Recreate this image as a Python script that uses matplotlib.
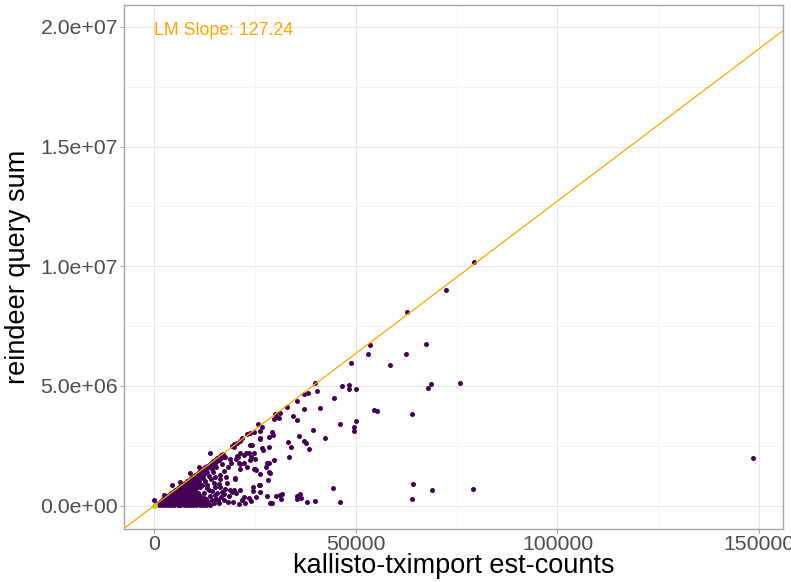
import matplotlib
matplotlib.use("Agg")
import matplotlib.pyplot as plt
from matplotlib.ticker import FixedLocator, MultipleLocator

plt.rcParams['font.family'] = ['Liberation Sans', 'DejaVu Sans']

# ---- data (x in thousands of est-counts, y in millions of query sum) ----
# dense wedge near the origin
dense_x_k = [0.3, 1.1, 1.9, 2.6, 3.4, 4.2, 5.0, 5.8, 6.5, 7.3, 8.1, 8.9, 9.6, 10.4, 11.3, 12.0, 12.9, 13.8,
             0.7, 1.5, 2.3, 3.0, 3.8, 4.6, 5.4, 6.2, 6.9, 7.7, 8.5, 9.3, 10.0, 10.8, 11.7, 12.5, 13.3,
             1.2, 2.0, 2.9, 3.7, 4.5, 5.3, 6.1, 6.9, 7.7, 8.5, 9.2, 10.0, 10.9, 11.6, 12.5, 13.4,
             1.6, 2.5, 3.3, 4.1, 4.9, 5.7, 6.5, 7.3, 8.1, 8.9, 9.6, 10.5, 11.3, 12.2, 13.0,
             2.2, 3.0, 3.9, 4.7, 5.5, 6.3, 7.1, 7.9, 8.7, 9.5, 10.3, 11.1, 12.0, 12.9,
             2.6, 3.5, 4.3, 5.1, 5.9, 6.7, 7.5, 8.3, 9.1, 9.9, 10.7, 11.6, 12.4,
             3.2, 4.0, 4.8, 5.6, 6.4, 7.2, 8.0, 8.8, 9.6, 10.5, 11.4,
             3.6, 4.4, 5.2, 6.0, 6.8, 7.6, 8.4, 9.2, 10.1, 11.0,
             4.1, 4.9, 5.8, 6.6, 7.4, 8.2, 9.0, 9.9, 10.8,
             4.6, 5.4, 6.2, 7.0, 7.8, 8.6, 9.5, 10.4,
             5.1, 6.0, 6.8, 7.6, 8.4, 9.3, 10.2,
             5.6, 6.4, 7.2, 8.0, 8.9, 9.8,
             6.1, 7.0, 7.8, 8.6, 9.5, 10.6,
             6.6, 7.4, 8.2, 9.1, 10.1,
             7.1, 8.0, 8.8, 9.8, 11.0,
             7.6, 8.4, 9.3, 10.4,
             8.1, 9.0, 9.9, 11.2,
             8.6, 9.4, 10.3,
             9.1, 9.9, 10.8, 12.1,
             9.6, 10.4, 11.3,
             10.1, 10.9, 11.9,
             10.6, 11.4, 12.4,
             11.1, 11.9, 13.1,
             11.6, 12.4,
             12.1, 12.9, 14.2,
             12.6, 13.4,
             13.1, 13.9,
             13.6, 14.5,
             14.1, 15.0,
             14.6, 15.5,
             15.1, 16.1,
             15.6, 16.6,
             16.1, 17.3,
             16.6,
             17.1,
             12.3, 13.0, 11.8, 12.6, 13.5, 14.5, 15.3, 14.8, 13.9, 15.2, 16.0, 15.6,
             14.9, 15.8, 16.5, 17.2, 14.2, 15.1, 16.0, 17.5, 18.6, 19.5, 13.2, 14.0, 15.0, 16.3,
             17.4, 18.2, 16.8, 19.0, 17.8,
             0.0, 4.4, 8.9, 13.9, 2.5, 6.5, 11.0]
dense_y_M = [0.02, 0.02, 0.02, 0.02, 0.02, 0.02, 0.02, 0.02, 0.02, 0.02, 0.02, 0.02, 0.02, 0.02, 0.02, 0.02, 0.02, 0.02,
             0.075, 0.075, 0.075, 0.075, 0.075, 0.075, 0.075, 0.075, 0.075, 0.075, 0.075, 0.075, 0.075, 0.075, 0.075, 0.075, 0.075,
             0.13, 0.13, 0.13, 0.13, 0.13, 0.13, 0.13, 0.13, 0.13, 0.13, 0.13, 0.13, 0.13, 0.13, 0.13, 0.13,
             0.20, 0.20, 0.20, 0.20, 0.20, 0.20, 0.20, 0.20, 0.20, 0.20, 0.20, 0.20, 0.20, 0.20, 0.20,
             0.26, 0.26, 0.26, 0.26, 0.26, 0.26, 0.26, 0.26, 0.26, 0.26, 0.26, 0.26, 0.26, 0.26,
             0.325, 0.325, 0.325, 0.325, 0.325, 0.325, 0.325, 0.325, 0.325, 0.325, 0.325, 0.325, 0.325,
             0.39, 0.39, 0.39, 0.39, 0.39, 0.39, 0.39, 0.39, 0.39, 0.39, 0.39,
             0.45, 0.45, 0.45, 0.45, 0.45, 0.45, 0.45, 0.45, 0.45, 0.45,
             0.51, 0.51, 0.51, 0.51, 0.51, 0.51, 0.51, 0.51, 0.51,
             0.575, 0.575, 0.575, 0.575, 0.575, 0.575, 0.575, 0.575,
             0.64, 0.64, 0.64, 0.64, 0.64, 0.64, 0.64,
             0.70, 0.70, 0.70, 0.70, 0.70, 0.70,
             0.77, 0.77, 0.77, 0.77, 0.77, 0.77,
             0.83, 0.83, 0.83, 0.83, 0.83,
             0.90, 0.90, 0.90, 0.90, 0.90,
             0.96, 0.96, 0.96, 0.96,
             1.02, 1.02, 1.02, 1.02,
             1.09, 1.09, 1.09,
             1.15, 1.15, 1.15, 1.15,
             1.21, 1.21, 1.21,
             1.28, 1.28, 1.28,
             1.34, 1.34, 1.34,
             1.41, 1.41, 1.41,
             1.47, 1.47,
             1.53, 1.53, 1.53,
             1.60, 1.60,
             1.66, 1.66,
             1.72, 1.72,
             1.79, 1.79,
             1.85, 1.85,
             1.91, 1.91,
             1.98, 1.98,
             2.04, 2.04,
             2.10,
             2.17,
             0.55, 0.72, 0.85, 1.05, 1.25, 1.40, 1.62, 0.95, 0.40, 0.30, 0.12, 0.55,
             0.10, 0.22, 0.35, 0.50, 0.62, 0.78, 0.92, 0.70, 0.40, 0.15, 0.85, 1.10, 1.20, 1.30,
             1.45, 1.60, 1.75, 1.80, 1.20,
             0.22, 0.86, 1.35, 2.19, 0.45, 1.00, 1.60]

# scattered transcripts
sparse_x_k = [79.29, 72.24, 62.74, 53.57, 67.46, 53.07, 62.32, 48.78, 58.45, 44.47, 46.45, 48.19, 48.36, 49.92,
              67.78, 68.62, 75.81, 54.49, 55.13, 63.81, 46.13, 50.02, 49.60, 49.43, 44.39, 64.16, 68.94, 79.11,
              63.98, 148.43,
              39.75, 38.02, 37.2, 40.25, 35.39, 32.91, 41.0, 37.13, 30.0, 31.07, 30.43, 30.83, 29.59, 34.4, 35.46,
              39.36, 42.33, 35.79, 37.2, 37.7, 38.27, 33.06, 33.98, 33.48, 29.09, 29.34, 28.35, 26.11, 26.78,
              26.86, 24.13, 29.76, 27.95, 27.78, 28.59, 28.2, 26.29, 24.38, 24.48, 25.05, 24.63, 25.3, 23.98,
              23.64, 22.64, 22.32, 21.33, 22.99, 20.66, 20.34, 20.01, 19.67, 20.34, 22.15, 21.75, 25.3, 27.95,
              30.26, 31.07, 31.67, 31.5, 28.59, 29.19, 35.39, 36.21, 36.38, 35.39, 37.94, 39.75, 46.13, 22.57,
              23.98, 20.9,
              25.62, 26.78, 26.29, 24.8, 23.81, 22.99, 21.33, 20.51, 19.67, 19.27,
              21.75, 26.29, 23.81, 28.52, 19.67, 21.33, 22.15, 23.39, 24.63, 20.51, 18.67, 17.61, 20.91, 25.05,
              21.33, 20.09, 18.03, 16.37, 18.85, 19.27, 21.33, 23.39, 25.87, 26.29, 28.35, 28.35, 16.37, 16.79,
              15.13, 13.47, 14.31, 17.19, 18.18, 11.41, 26.29]
sparse_y_M = [10.18, 9.02, 8.08, 6.73, 6.75, 6.32, 6.35, 5.96, 5.88, 4.50, 4.99, 5.04, 4.89, 4.86,
              4.90, 5.08, 5.14, 3.98, 3.96, 3.84, 3.41, 3.55, 3.30, 3.13, 0.73, 0.92, 0.66, 0.69,
              0.27, 1.99,
              5.11, 4.72, 4.67, 4.80, 4.39, 4.14, 4.09, 4.03, 3.83, 3.86, 3.72, 3.65, 3.61, 3.75, 3.57,
              3.16, 2.83, 2.91, 2.69, 2.61, 2.38, 2.65, 2.46, 2.02, 3.08, 2.97, 2.88, 2.77, 2.40,
              2.31, 2.52, 1.90, 1.80, 1.63, 1.38, 1.07, 0.86, 0.79, 0.63, 1.94, 1.52, 1.49, 2.05,
              1.91, 2.19, 1.80, 1.74, 1.63, 2.05, 1.94, 1.13, 0.66, 0.54, 0.35, 0.24, 0.38, 0.42,
              0.41, 0.46, 0.49, 0.27, 0.13, 0.13, 0.41, 0.48, 0.31, 0.29, 0.17, 0.20, 0.17, 0.10,
              0.21, 0.06,
              3.40, 3.30, 3.12, 3.09, 3.02, 2.98, 2.72, 2.63, 2.58, 2.49,
              2.82, 2.82, 2.54, 2.46, 2.46, 2.19, 2.12, 2.21, 2.19, 2.08, 1.94, 2.02, 1.77, 1.53,
              1.52, 1.14, 0.94, 1.10, 0.66, 0.58, 0.66, 0.31, 0.86, 0.58, 1.77, 1.42, 0.79, 0.58,
              0.45, 0.66, 0.24, 0.24, 0.17, 0.79, 1.32]

# highest-density points at the origin
origin_x_k = [0.0, 0.3]
origin_y_M = [0.0, 0.05]

lm_slope = 127.24
x_ticks = [0, 50000, 100000, 150000]
x_tick_labels = ["0", "50000", "100000", "150000"]
y_ticks = [0, 5e6, 1e7, 1.5e7, 2e7]
y_tick_labels = ["0.0e+00", "5.0e+06", "1.0e+07", "1.5e+07", "2.0e+07"]
x_label = "kallisto-tximport est-counts"
y_label = "reindeer query sum"
annot = "LM Slope: 127.24"

# ---- figure ----
W, H = 791, 582
fig = plt.figure(figsize=(W / 100, H / 100), dpi=100)
ax = fig.add_axes([124.3 / W, 1 - 529 / H, (783 - 124.3) / W, (529 - 5.3) / H])

xmin, xmax = -7425, 155925
ymin, ymax = -0.973e6, 2.090e7

pt_color = "#440154"
ax.scatter([v * 1000 for v in dense_x_k], [v * 1e6 for v in dense_y_M], s=13, c=pt_color,
           linewidths=0, zorder=3)
ax.scatter([v * 1000 for v in sparse_x_k], [v * 1e6 for v in sparse_y_M], s=13, c=pt_color,
           linewidths=0, zorder=3)
ax.scatter([v * 1000 for v in origin_x_k], [v * 1e6 for v in origin_y_M], s=13, c="#9FDA3A",
           linewidths=0, zorder=3.5)

ax.axline((0, 0), slope=lm_slope, color="#FFA500", lw=0.9, zorder=4)

ax.annotate(annot, xy=(0, 2e7), xytext=(0, -2.5), textcoords="offset points",
            color="#FFA500", fontsize=12.8, ha="left", va="center", zorder=5)

ax.set_xlim(xmin, xmax)
ax.set_ylim(ymin, ymax)
ax.xaxis.set_major_locator(FixedLocator(x_ticks))
ax.set_xticklabels(x_tick_labels)
ax.yaxis.set_major_locator(FixedLocator(y_ticks))
ax.set_yticklabels(y_tick_labels)
ax.xaxis.set_minor_locator(MultipleLocator(25000))
ax.yaxis.set_minor_locator(MultipleLocator(2.5e6))

ax.grid(which="major", color="#E6E6E6", lw=0.7, zorder=0)
ax.grid(which="minor", color="#F2F2F2", lw=0.5, zorder=0)
ax.set_axisbelow(True)

for s in ax.spines.values():
    s.set_color("#A6A6A6")
    s.set_linewidth(1.0)

ax.tick_params(which="major", length=2.7, width=0.8, color="#A6A6A6", labelcolor="#4D4D4D",
               labelsize=15.3, pad=1.8)
ax.tick_params(which="minor", length=0)

fig.text((124.3 + 783) / 2 / W, 1 - 566 / H, x_label, fontsize=19.5, ha="center", va="center",
         color="black")
fig.text(18 / W, 1 - 267 / H, y_label, fontsize=19.5, ha="center", va="center", rotation=90,
         color="black")

fig.savefig("out.png", dpi=100)
